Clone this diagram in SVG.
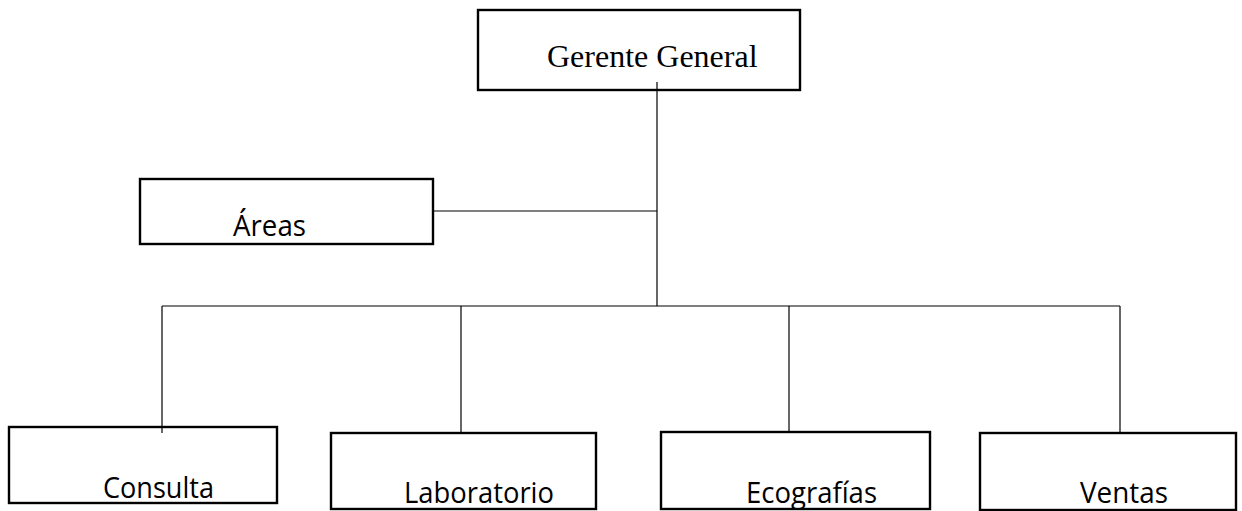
<svg xmlns="http://www.w3.org/2000/svg" width="1242" height="511" viewBox="0 0 1242 511">
<style>
.box{fill:#fff;stroke:#000;stroke-width:2.4}
.ln{stroke:#000;stroke-width:1.2;fill:none}
.serif{font-family:"Liberation Serif","Times New Roman",serif;font-size:32px;fill:#000}
.sans{font-family:"Open Sans","Noto Sans",sans-serif;font-size:29px;fill:#000}
</style>
<rect width="1242" height="511" fill="#fff"/>
<g id="gerente">
<rect class="box" x="478" y="10" width="322" height="80"/>
<text class="serif" x="547" y="67">Gerente General</text>
</g>
<g id="areas">
<rect class="box" x="140" y="179" width="293" height="65"/>
<text class="sans" x="233" y="236" textLength="73" lengthAdjust="spacingAndGlyphs">Áreas</text>
</g>
<g id="consulta">
<rect class="box" x="9" y="427" width="268" height="76"/>
<text class="sans" x="103" y="498" textLength="111" lengthAdjust="spacingAndGlyphs">Consulta</text>
</g>
<g id="laboratorio">
<rect class="box" x="331" y="433" width="265" height="76"/>
<text class="sans" x="404" y="503" textLength="150" lengthAdjust="spacingAndGlyphs">Laboratorio</text>
</g>
<g id="ecografias">
<rect class="box" x="661" y="432" width="269" height="77"/>
<text class="sans" x="746" y="503" textLength="131" lengthAdjust="spacingAndGlyphs">Ecografías</text>
</g>
<g id="ventas">
<rect class="box" x="980" y="433" width="256" height="77"/>
<text class="sans" x="1080" y="503" textLength="88" lengthAdjust="spacingAndGlyphs">Ventas</text>
</g>
<g id="connectors">
<line class="ln" x1="657" y1="82" x2="657" y2="306"/>
<line class="ln" x1="433" y1="211" x2="657" y2="211"/>
<line class="ln" x1="162" y1="306" x2="1120" y2="306"/>
<line class="ln" x1="162" y1="306" x2="162" y2="433"/>
<line class="ln" x1="461" y1="306" x2="461" y2="433"/>
<line class="ln" x1="789" y1="306" x2="789" y2="432"/>
<line class="ln" x1="1120" y1="306" x2="1120" y2="433"/>
</g>
</svg>
